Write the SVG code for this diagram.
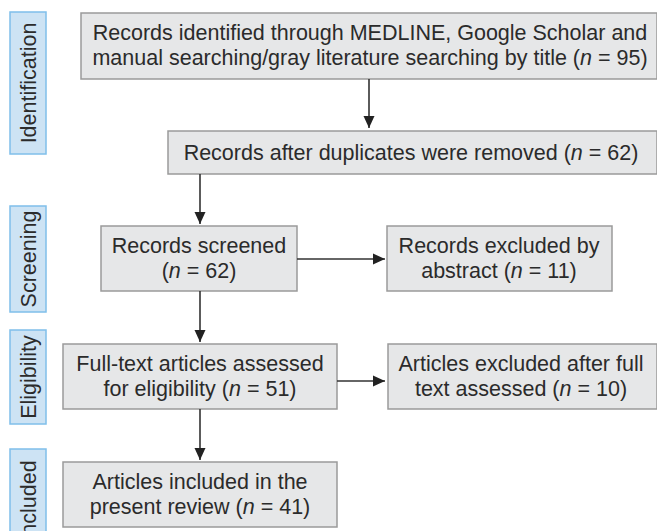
<svg xmlns="http://www.w3.org/2000/svg" width="657" height="531" viewBox="0 0 657 531">
<defs>
<style>
.box{fill:#e6e7e8;stroke:#9a9a9a;stroke-width:1.5}
.side{fill:#cde3f4;stroke:#7fbfea;stroke-width:1.5}
text{font-family:"Liberation Sans",Arial,sans-serif;font-size:21.5px;fill:#2b2b2b;text-anchor:middle}
.con{stroke:#333;stroke-width:1.6;fill:none}
</style>
<marker id="ah" markerWidth="12" markerHeight="12" viewBox="0 0 12 12" refX="12" refY="6" orient="auto" markerUnits="userSpaceOnUse">
<path d="M0,0.5 L12,6 L0,11.5 Z" fill="#222"/>
</marker>
</defs>
<rect width="657" height="531" fill="#fff"/>
<g id="phase-identification"><rect class="side" x="10" y="12" width="36" height="142"/><text transform="translate(36,83) rotate(-90)">Identification</text></g>
<g id="phase-screening"><rect class="side" x="10" y="206" width="36" height="106"/><text transform="translate(36,259) rotate(-90)">Screening</text></g>
<g id="phase-eligibility"><rect class="side" x="10" y="330" width="36" height="94"/><text transform="translate(36,377) rotate(-90)">Eligibility</text></g>
<g id="phase-included"><rect class="side" x="10" y="449" width="36" height="100"/><text transform="translate(36,501) rotate(-90)">Included</text></g>
<g id="identified"><rect class="box" x="81" y="13" width="576" height="66"/><text x="370" y="40">Records identified through MEDLINE, Google Scholar and</text><text x="370" y="65">manual searching/gray literature searching by title (<tspan font-style="italic">n</tspan> = 95)</text></g>
<g id="deduplicated"><rect class="box" x="168" y="131" width="489" height="43"/><text x="411" y="160">Records after duplicates were removed (<tspan font-style="italic">n</tspan> = 62)</text></g>
<g id="screened"><rect class="box" x="101" y="226" width="196" height="65"/><text x="199" y="253">Records screened</text><text x="199" y="278">(<tspan font-style="italic">n</tspan> = 62)</text></g>
<g id="excluded-abstract"><rect class="box" x="387" y="226" width="225" height="65"/><text x="499" y="253">Records excluded by</text><text x="499" y="278">abstract (<tspan font-style="italic">n</tspan> = 11)</text></g>
<g id="fulltext"><rect class="box" x="63" y="344" width="274" height="65"/><text x="200" y="371">Full-text articles assessed</text><text x="200" y="396">for eligibility (<tspan font-style="italic">n</tspan> = 51)</text></g>
<g id="excluded-fulltext"><rect class="box" x="388" y="344" width="269" height="65"/><text x="521" y="371">Articles excluded after full</text><text x="521" y="396">text assessed (<tspan font-style="italic">n</tspan> = 10)</text></g>
<g id="included"><rect class="box" x="63" y="462" width="274" height="65"/><text x="200" y="489">Articles included in the</text><text x="200" y="514">present review (<tspan font-style="italic">n</tspan> = 41)</text></g>
<g id="connectors">
<line class="con" x1="369" y1="79" x2="369" y2="128" marker-end="url(#ah)"/>
<line class="con" x1="200" y1="174" x2="200" y2="224" marker-end="url(#ah)"/>
<line class="con" x1="297" y1="259" x2="385" y2="259" marker-end="url(#ah)"/>
<line class="con" x1="200" y1="291" x2="200" y2="342" marker-end="url(#ah)"/>
<line class="con" x1="337" y1="381" x2="385" y2="381" marker-end="url(#ah)"/>
<line class="con" x1="200" y1="409" x2="200" y2="460" marker-end="url(#ah)"/>
</g>
</svg>
